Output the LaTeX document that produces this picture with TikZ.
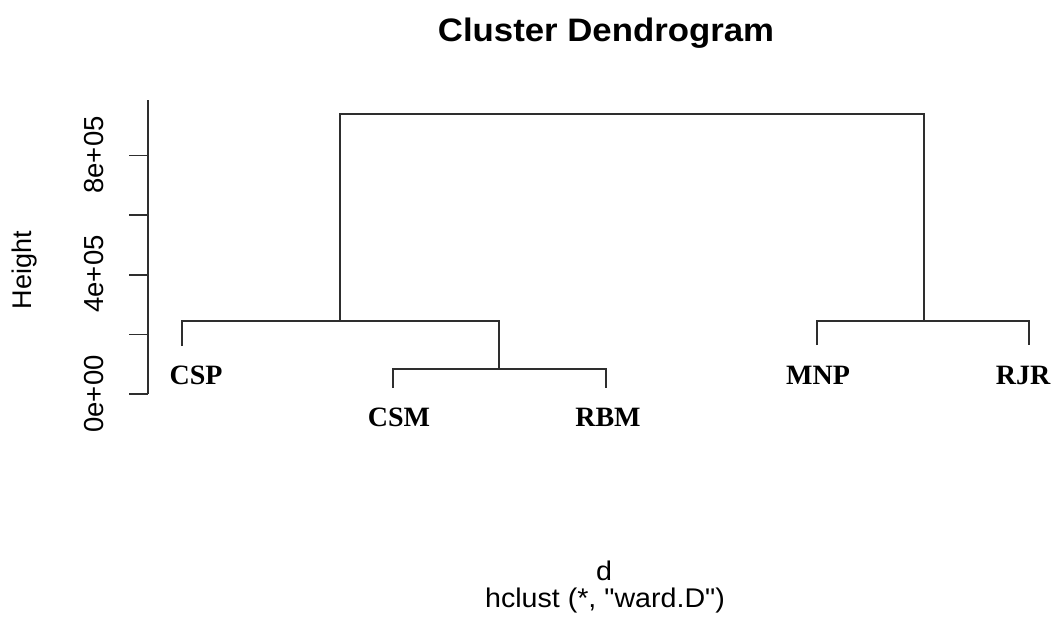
\documentclass[tikz,border=0pt]{standalone}
\usepackage{fontspec}
\newfontfamily\plotfont{Liberation Sans}
\newfontfamily\leaffont{Liberation Serif}
\begin{document}
\begin{tikzpicture}[x=1pt,y=-1pt,
  tree/.style={line width=1.8pt, draw=black!82},
  axisline/.style={line width=1.6pt, draw=black!82},
  leaf/.style={font=\leaffont\bfseries\fontsize{28}{30}\selectfont, inner sep=0pt},
  ticklab/.style={font=\plotfont\fontsize{27.5}{30}\selectfont, rotate=90, inner sep=0pt},
  plottext/.style={font=\plotfont\fontsize{27}{30}\selectfont, inner sep=0pt, xscale=1.06}]
  \useasboundingbox (0,0) rectangle (1056,619);

  % titles
  \node[font=\plotfont\bfseries\fontsize{32.5}{36}\selectfont, inner sep=0pt, xscale=1.07, anchor=base] (title) at (606,41) {Cluster Dendrogram};
  \node[plottext, anchor=base] (xlab) at (604,580) {d};
  \node[plottext, anchor=base] (sub) at (605,607) {hclust (*, "ward.D")};
  \node[ticklab, font=\plotfont\fontsize{27}{30}\selectfont] (ylab) at (25,270) {Height};

  % y axis
  \draw[axisline] (148,100) -- (148,394);
  \foreach \k in {0,...,4}
    \draw[axisline] (129,394-59.6*\k) -- (148,394-59.6*\k);
  \node[ticklab] (t0) at (94,394) {0e+00};
  \node[ticklab] (t4) at (94,274) {4e+05};
  \node[ticklab] (t8) at (94,155) {8e+05};

  % leaf tips and merge points
  \coordinate (tCSP) at (182,346);
  \coordinate (tCSM) at (393,388);
  \coordinate (tRBM) at (606,388);
  \coordinate (tMNP) at (817,345);
  \coordinate (tRJR) at (1029,345);
  \coordinate (h1) at (499,369);
  \coordinate (h2) at (340,321);
  \coordinate (h3) at (924,321);
  \coordinate (h4) at (632,114);

  % dendrogram branches
  \draw[tree] (tCSM) |- (h1) -| (tRBM);
  \draw[tree] (tCSP) |- (h2) -| (h1);
  \draw[tree] (tMNP) |- (h3) -| (tRJR);
  \draw[tree] (h2) |- (h4) -| (h3);

  % leaf labels
  \node[leaf] (CSP) at (196,375) {CSP};
  \node[leaf] (CSM) at (399,417) {CSM};
  \node[leaf] (RBM) at (608,417) {RBM};
  \node[leaf] (MNP) at (818,375) {MNP};
  \node[leaf] (RJR) at (1023,375) {RJR};
\end{tikzpicture}
\end{document}
